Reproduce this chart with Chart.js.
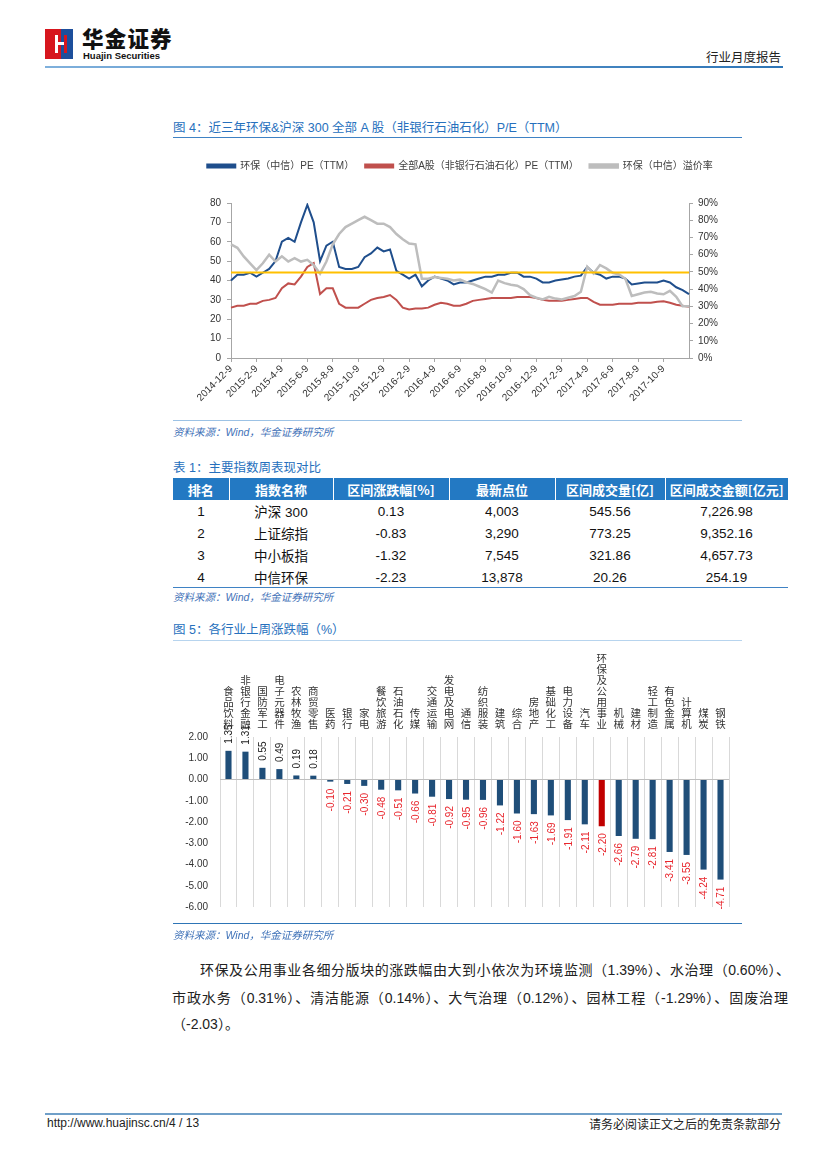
<!DOCTYPE html>
<html><head><meta charset="utf-8">
<script src="https://cdn.jsdelivr.net/npm/chart.js@4.4.1/dist/chart.umd.min.js"></script>
<style>
body{margin:0;width:827px;height:1169px;position:relative;background:#fff;font-family:'Liberation Sans','Noto Sans CJK SC',sans-serif;color:#222;overflow:hidden}
.a{position:absolute;white-space:nowrap}
.title{font-size:12.5px;line-height:16px;color:#2670bd}
.src{font-size:10.5px;line-height:14px;color:#3f72b8;font-style:italic}
.hl{position:absolute;height:1px}
table{border-collapse:collapse;table-layout:fixed}
th{background:#2379c3;color:#fff;font-weight:bold;font-size:13px;height:22px;padding:0;text-align:center;border-right:1px solid #fff;font-family:'Noto Sans CJK SC','Liberation Sans',sans-serif}
th:last-child{border-right:none}
td{font-size:13.5px;height:22px;padding:0;text-align:center;color:#111}
.p{position:absolute;font-size:14px;line-height:20px;color:#222;white-space:nowrap}
</style></head>
<body>
<!-- header -->
<div class="a" style="left:45px;top:29px;width:16px;height:30px;background:#d7161e"></div>
<div class="a" style="left:61px;top:29px;width:12px;height:30px;background:#1d4f9c"></div>
<div class="a" style="left:55px;top:35px;width:3px;height:18px;background:#fff"></div>
<div class="a" style="left:58px;top:42px;width:6px;height:3px;background:#fff"></div>
<div class="a" style="left:64px;top:35px;width:3px;height:18px;background:#d7161e"></div>
<div class="a" style="left:82px;top:26px;font-size:21.5px;line-height:24px;font-weight:900;color:#111;font-family:'Noto Sans CJK SC';letter-spacing:1.2px">华金证券</div>
<div class="a" style="left:83px;top:50px;font-size:9.5px;line-height:11px;font-weight:bold;color:#111">Huajin Securities</div>
<div class="a" style="right:46px;top:49px;font-size:12.5px;line-height:16px;color:#222;font-family:'Noto Sans CJK SC'">行业月度报告</div>
<div class="hl" style="left:45px;top:66px;width:738px;height:2px;background:linear-gradient(to right,#7fb0dc,#2e75b6)"></div>

<!-- figure 4 -->
<div class="a title" style="left:173px;top:120px">图 4：近三年环保&amp;沪深 300 全部 A 股（非银行石油石化）P/E（TTM）</div>
<div class="hl" style="left:173px;top:137px;width:569px;background:#3f82c4"></div>
<canvas id="c1" class="a" style="left:172px;top:150px" width="576" height="265"></canvas>
<div class="hl" style="left:173px;top:420px;width:569px;background:#9cc2e5"></div>
<div class="a src" style="left:173px;top:425px">资料来源：Wind，华金证券研究所</div>

<!-- table 1 -->
<div class="a title" style="left:173px;top:460px">表 1：主要指数周表现对比</div>
<table class="a" style="left:173px;top:478px;width:615px">
<colgroup><col style="width:56px"><col style="width:104px"><col style="width:116px"><col style="width:106px"><col style="width:110px"><col style="width:123px"></colgroup>
<thead><tr id="thead"></tr></thead>
<tbody id="tbody"></tbody>
</table>
<div class="hl" style="left:173px;top:587px;width:615px;background:#3f82c4"></div>
<div class="a src" style="left:173px;top:590px">资料来源：Wind，华金证券研究所</div>

<!-- figure 5 -->
<div class="a title" style="left:173px;top:622px">图 5：各行业上周涨跌幅（%）</div>
<div class="hl" style="left:173px;top:640px;width:569px;background:#b7d4ee"></div>
<canvas id="c2" class="a" style="left:170px;top:645px" width="575" height="280"></canvas>
<div class="hl" style="left:173px;top:923px;width:569px;background:#2e75b6"></div>
<div class="a src" style="left:173px;top:928px">资料来源：Wind，华金证券研究所</div>

<!-- paragraph -->
<div class="p" style="left:200px;top:960px;width:590px;text-align:justify;text-align-last:justify;white-space:normal">环保及公用事业各细分版块的涨跌幅由大到小依次为环境监测（1.39%）、水治理（0.60%）、</div>
<div class="p" style="left:172px;top:988px;width:616px;text-align:justify;text-align-last:justify;white-space:normal">市政水务（0.31%）、清洁能源（0.14%）、大气治理（0.12%）、园林工程（-1.29%）、固废治理</div>
<div class="p" style="left:172px;top:1014px">（-2.03）。</div>

<!-- footer -->
<div class="hl" style="left:45px;top:1113px;width:737px;height:1.5px;background:#6f9fc8"></div>
<div class="a" style="left:47px;top:1116px;font-size:12px;line-height:15px;color:#222">http://www.huajinsc.cn/4 / 13</div>
<div class="a" style="right:46px;top:1116px;font-size:12px;line-height:15px;color:#222;font-family:'Noto Sans CJK SC'">请务必阅读正文之后的免责条款部分</div>

<script>
// ---------- Figure 4 data ----------
const dates = ['2014-12-9','2014-12-24',
'2015-1-9','2015-1-24','2015-2-9','2015-2-24','2015-3-9','2015-3-24','2015-4-9','2015-4-24','2015-5-9','2015-5-24','2015-6-9','2015-6-24',
'2015-7-9','2015-7-24','2015-8-9','2015-8-24','2015-9-9','2015-9-24','2015-10-9','2015-10-24','2015-11-9','2015-11-24','2015-12-9','2015-12-24',
'2016-1-9','2016-1-24','2016-2-9','2016-2-24','2016-3-9','2016-3-24','2016-4-9','2016-4-24','2016-5-9','2016-5-24','2016-6-9','2016-6-24',
'2016-7-9','2016-7-24','2016-8-9','2016-8-24','2016-9-9','2016-9-24','2016-10-9','2016-10-24','2016-11-9','2016-11-24','2016-12-9','2016-12-24',
'2017-1-9','2017-1-24','2017-2-9','2017-2-24','2017-3-9','2017-3-24','2017-4-9','2017-4-24','2017-5-9','2017-5-24','2017-6-9','2017-6-24',
'2017-7-9','2017-7-24','2017-8-9','2017-8-24','2017-9-9','2017-9-24','2017-10-9','2017-10-24','2017-11-9','2017-11-24','2017-12-8'];
const xTickLabels = ['2014-12-9','2015-2-9','2015-4-9','2015-6-9','2015-8-9','2015-10-9','2015-12-9','2016-2-9','2016-4-9',
'2016-6-9','2016-8-9','2016-10-9','2016-12-9','2017-2-9','2017-4-9','2017-6-9','2017-8-9','2017-10-9'];
const envPE = [40,43,43,44,42,44,46,50,60,62, 60,70,79,70,50,58,60,47,46,46,
47,52,54,57,55,56,45,43,41,43, 37,40,42,41,40,38,39,39,40,41,
42,42,43,43,44,44,42,42,41,39, 39,40,40.5,41,42,42.5,47,44,43,41,
42,42,41,38,38.5,39,39,39,40,39, 36.5,35,33];
const allAPE = [26,27,27,28,28,29.5,30,31,36,38.5, 38,42,47,49,33,36,36,28,26,26,
26,28,30,31,31.5,32.5,30,26,25,25.5, 25.5,26,27.5,28.5,28,27,27,28,29.5,30,
30.5,31,31,31,31,31.5,31.5,31.5,31,30, 29.5,29.5,29.5,30,30.5,31,31,29,27.5,27.5,
27.5,28,28,28,28.5,28.5,28.5,29,29.3,28.5, 27.5,27,26.5];
const premium = [66,64,59,55,51,55,60,56,59,56, 58,56,57,54,49,56,66,72,76,78,
80,82,80,78,78,76,72,69,66.5,66, 46,46,47,46.5,46,45,45.5,44,43,41.5,
40,38,45,43.5,42.5,42,40,36.5,35,34, 35.5,34.5,34,35,36,38.5,53,49,54,52,
49.5,48.5,46,36,37,38,38.5,37.5,37,39, 35.5,30,30];
const premiumAvg = 49.7;
const peTicks = [0,10,20,30,40,50,60,70,80];
const pctTicks = [0,10,20,30,40,50,60,70,80,90];

// ---------- Table 1 data ----------
const tableHead = ['排名','指数名称','区间涨跌幅[%]','最新点位','区间成交量[亿]','区间成交金额[亿元]'];
const tableRanks = ['1','2','3','4'];
const tableNames = ['沪深 300','上证综指','中小板指','中信环保'];
const tableChg = ['0.13','-0.83','-1.32','-2.23'];
const tablePoint = ['4,003','3,290','7,545','13,878'];
const tableVol = ['545.56','773.25','321.86','20.26'];
const tableAmt = ['7,226.98','9,352.16','4,657.73','254.19'];

// ---------- Figure 5 data ----------
const industries = ['食品饮料','非银行金融','国防军工','电子元器件','农林牧渔','商贸零售','医药','银行','家电','餐饮旅游',
'石油石化','传媒','交通运输','发电及电网','通信','纺织服装','建筑','综合','房地产','基础化工',
'电力设备','汽车','环保及公用事业','机械','建材','轻工制造','有色金属','计算机','煤炭','钢铁'];
const changes = [1.35,1.31,0.55,0.49,0.19,0.18,-0.10,-0.21,-0.30,-0.48,
-0.51,-0.66,-0.81,-0.92,-0.95,-0.96,-1.22,-1.60,-1.63,-1.69,
-1.91,-2.11,-2.20,-2.66,-2.79,-2.81,-3.41,-3.55,-4.24,-4.71];
const highlightIndustry = '环保及公用事业';
const barTicks = [2,1,0,-1,-2,-3,-4,-5,-6];

// ---------- build table ----------
document.getElementById('thead').innerHTML = tableHead.map(h => '<th>' + h + '</th>').join('');
document.getElementById('tbody').innerHTML = tableRanks.map((r, i) =>
  '<tr><td>' + [r, tableNames[i], tableChg[i], tablePoint[i], tableVol[i], tableAmt[i]].join('</td><td>') + '</td></tr>').join('');

// ---------- charts ----------
const FAM = "'Liberation Sans','Noto Sans CJK SC',sans-serif";
Chart.defaults.font.family = FAM;
Chart.defaults.color = '#333';

const legendSpacer = {
  id: 'legendSpacer',
  beforeInit(chart) {
    const orig = chart.legend.fit;
    chart.legend.fit = function () { orig.bind(chart.legend)(); this.height = 53; };
  }
};

new Chart(document.getElementById('c1'), {
  type: 'line',
  data: {
    labels: dates,
    datasets: [
      { label: '环保（中信）PE（TTM）', data: envPE, borderColor: '#1f4e8c', backgroundColor: '#1f4e8c', borderWidth: 2, pointRadius: 0, yAxisID: 'y', order: 4 },
      { label: '全部A股（非银行石油石化）PE（TTM）', data: allAPE, borderColor: '#c0504d', backgroundColor: '#c0504d', borderWidth: 2, pointRadius: 0, yAxisID: 'y', order: 3 },
      { label: '环保（中信）溢价率', data: premium, borderColor: '#bdbdbd', backgroundColor: '#bdbdbd', borderWidth: 2.5, pointRadius: 0, yAxisID: 'y1', order: 2 },
      { label: 'avg', data: [{ x: dates[0], y: premiumAvg }, { x: dates[dates.length - 1], y: premiumAvg }], borderColor: '#ffc000', backgroundColor: '#ffc000', borderWidth: 2, pointRadius: 0, yAxisID: 'y1', order: 1 }
    ]
  },
  options: {
    responsive: false, animation: false,
    layout: { padding: 0 },
    plugins: {
      tooltip: { enabled: false },
      legend: {
        labels: {
          filter: it => it.datasetIndex < 3,
          sort: (a, b) => a.datasetIndex - b.datasetIndex,
          boxWidth: 28, boxHeight: 3, padding: 11,
          font: { size: 10 }, color: '#404040'
        }
      }
    },
    scales: {
      x: {
        grid: { drawOnChartArea: false, tickLength: 4, color: '#a6a6a6' },
        border: { color: '#a6a6a6' },
        ticks: { autoSkip: false, maxRotation: 45, minRotation: 45, font: { size: 10 }, color: '#333', padding: 1 },
        afterBuildTicks: s => { s.ticks = s.ticks.filter(t => xTickLabels.includes(dates[t.value])); },
        afterFit: s => { s.height = 57; }
      },
      y: {
        position: 'left', min: 0, max: 80,
        afterBuildTicks: s => { s.ticks = peTicks.map(v => ({ value: v })); },
        grid: { drawOnChartArea: false, tickLength: 4, color: '#a6a6a6' },
        border: { color: '#a6a6a6' },
        ticks: { font: { size: 10 }, color: '#333', padding: 6 },
        afterFit: s => { s.width = 59; }
      },
      y1: {
        position: 'right', min: 0, max: 90,
        afterBuildTicks: s => { s.ticks = pctTicks.map(v => ({ value: v })); },
        grid: { drawOnChartArea: false, tickLength: 4, color: '#a6a6a6' },
        border: { color: '#a6a6a6' },
        ticks: { font: { size: 10 }, color: '#333', padding: 5, callback: v => v + '%' },
        afterFit: s => { s.width = 59; }
      }
    }
  },
  plugins: [legendSpacer]
});

const barLabels = {
  id: 'barLabels',
  afterDatasetsDraw(chart) {
    const ctx = chart.ctx;
    const meta = chart.getDatasetMeta(0);
    ctx.save();
    ctx.font = '10px ' + FAM;
    ctx.textBaseline = 'middle';
    meta.data.forEach((bar, i) => {
      const v = changes[i];
      ctx.save();
      if (v >= 0) {
        ctx.translate(bar.x + 1, bar.y - 7); ctx.rotate(-Math.PI / 2);
        ctx.textAlign = 'left'; ctx.fillStyle = '#222';
      } else {
        ctx.translate(bar.x + 1, bar.y + 7); ctx.rotate(-Math.PI / 2);
        ctx.textAlign = 'right'; ctx.fillStyle = '#e8262d';
      }
      ctx.fillText(v.toFixed(2), 0, 0);
      ctx.restore();
    });
    ctx.restore();
  }
};

new Chart(document.getElementById('c2'), {
  type: 'bar',
  data: {
    labels: industries.map(s => s.split('')),
    datasets: [{
      data: changes,
      backgroundColor: industries.map(n => n === highlightIndustry ? '#c00000' : '#1f4e79'),
      barPercentage: 0.36, categoryPercentage: 1
    }]
  },
  options: {
    responsive: false, animation: false,
    layout: { padding: { left: 0, right: 16, top: 0, bottom: 10 } },
    plugins: { legend: { display: false }, tooltip: { enabled: false } },
    scales: {
      x: {
        position: 'top',
        grid: { color: '#d9d9d9', drawTicks: false, offset: true },
        border: { display: false },
        ticks: { autoSkip: false, maxRotation: 0, minRotation: 0, font: { size: 10.5, lineHeight: 1.05 }, color: '#333', padding: 6 },
        afterFit: s => { s.height = 92; }
      },
      y: {
        min: -6, max: 2,
        afterBuildTicks: s => { s.ticks = barTicks.map(v => ({ value: v })); },
        grid: { color: c => c.tick && c.tick.value === 0 ? '#bfbfbf' : 'rgba(0,0,0,0)', drawTicks: false },
        border: { display: false },
        ticks: { font: { size: 10 }, color: '#333', padding: 12, callback: v => v.toFixed(2) },
        afterFit: s => { s.width = 50; }
      }
    }
  },
  plugins: [barLabels]
});
</script>
</body></html>
